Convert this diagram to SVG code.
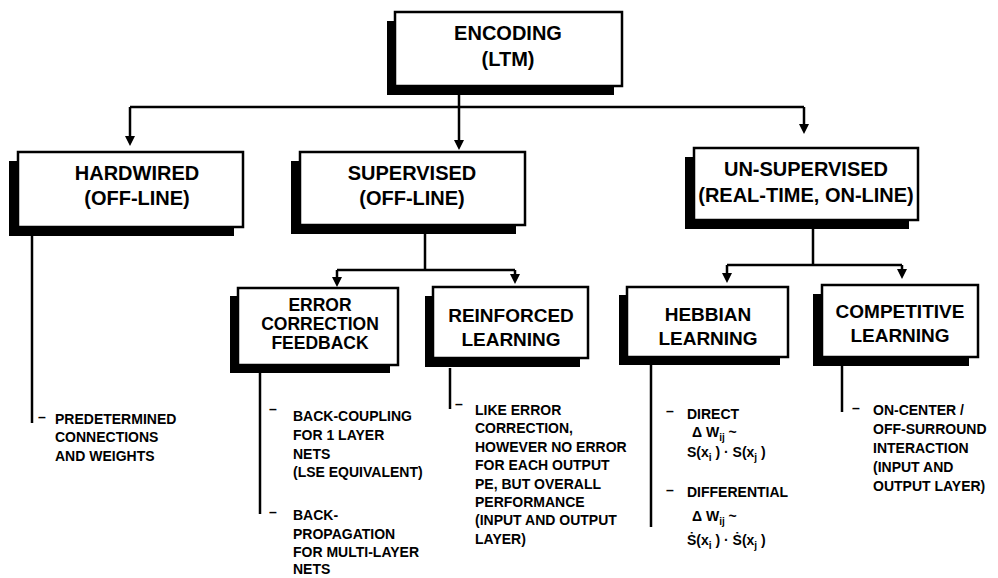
<svg xmlns="http://www.w3.org/2000/svg" width="998" height="578" viewBox="0 0 998 578">
<defs>
<style>
.sh{fill:#000}
.bx{fill:#fff;stroke:#000;stroke-width:2.5}
.t1{font-family:"Liberation Sans",Arial,sans-serif;font-weight:bold;font-size:20px;text-anchor:middle;fill:#000}
.t2{font-family:"Liberation Sans",Arial,sans-serif;font-weight:bold;font-size:19px;text-anchor:middle;fill:#000}
.t3{font-family:"Liberation Sans",Arial,sans-serif;font-weight:bold;font-size:17.5px;text-anchor:middle;fill:#000}
.tl{font-family:"Liberation Sans",Arial,sans-serif;font-weight:bold;font-size:14px;fill:#000}
.sub{font-size:10px}
.ln{fill:none;stroke:#000;stroke-width:2.5}
</style>
</defs>
<rect width="998" height="578" fill="#fff"/>

<g id="connectors">
<path class="ln" d="M130,107 H804"/>
<path class="ln" d="M459,90 V140"/>
<path class="ln" d="M130,107 V136"/>
<path class="ln" d="M804,107 V124"/>
<path d="M125,136 H135 L130,146 Z M454,140 H464 L459,150 Z M799,124 H809 L804,134 Z"/>

<path class="ln" d="M425,230 V270 M337,270 H515 M337,270 V277 M515,270 V274"/>
<path d="M332,277 H342 L337,287 Z M510,274 H520 L515,284 Z"/>

<path class="ln" d="M813,225 V265 M727,265 H902 M727,265 V273 M902,265 V269"/>
<path d="M722,273 H732 L727,283 Z M897,269 H907 L902,279 Z"/>

<path class="ln" d="M32,236 V423"/>
<path class="ln" d="M260,372 V514"/>
<path class="ln" d="M450,368 V409"/>
<path class="ln" d="M651,364 V527"/>
<path class="ln" d="M842,366 V412"/>
</g>

<g id="encoding">
<rect class="sh" x="387" y="21" width="227" height="74"/>
<rect class="bx" x="395" y="12" width="227" height="74"/>
<text class="t1" x="508" y="40">ENCODING</text>
<text class="t1" x="508" y="66">(LTM)</text>
</g>

<g id="hardwired">
<rect class="sh" x="9" y="161" width="225" height="75"/>
<rect class="bx" x="18" y="152" width="225" height="75"/>
<text class="t1" x="137" y="180">HARDWIRED</text>
<text class="t1" x="137" y="205">(OFF-LINE)</text>
</g>

<g id="supervised">
<rect class="sh" x="291" y="161" width="225" height="73"/>
<rect class="bx" x="300" y="152" width="225" height="73"/>
<text class="t1" x="412" y="180">SUPERVISED</text>
<text class="t1" x="412" y="205">(OFF-LINE)</text>
</g>

<g id="unsupervised">
<rect class="sh" x="685" y="157" width="224" height="72"/>
<rect class="bx" x="694" y="148" width="224" height="72"/>
<text class="t1" x="806" y="176">UN-SUPERVISED</text>
<text class="t1" x="806" y="202">(REAL-TIME, ON-LINE)</text>
</g>

<g id="error-correction">
<rect class="sh" x="230" y="296" width="160" height="77"/>
<rect class="bx" x="238" y="288" width="160" height="77"/>
<text class="t3" x="320" y="311">ERROR</text>
<text class="t3" x="320" y="330">CORRECTION</text>
<text class="t3" x="320" y="349">FEEDBACK</text>
</g>

<g id="reinforced">
<rect class="sh" x="425" y="296" width="155" height="71"/>
<rect class="bx" x="433" y="287" width="155" height="71"/>
<text class="t2" x="511" y="322">REINFORCED</text>
<text class="t2" x="511" y="346">LEARNING</text>
</g>

<g id="hebbian">
<rect class="sh" x="619" y="295" width="161" height="70"/>
<rect class="bx" x="627" y="287" width="161" height="70"/>
<text class="t2" x="708" y="321">HEBBIAN</text>
<text class="t2" x="708" y="345">LEARNING</text>
</g>

<g id="competitive">
<rect class="sh" x="813" y="294" width="156" height="72"/>
<rect class="bx" x="822" y="285" width="156" height="72"/>
<text class="t2" x="900" y="318">COMPETITIVE</text>
<text class="t2" x="900" y="342">LEARNING</text>
</g>

<g id="hardwired-notes">
<text class="tl" x="38" y="422">–</text>
<text class="tl" x="55" y="424">PREDETERMINED</text>
<text class="tl" x="55" y="442">CONNECTIONS</text>
<text class="tl" x="55" y="461">AND WEIGHTS</text>
</g>

<g id="error-notes">
<text class="tl" x="269" y="414">–</text>
<text class="tl" x="293" y="421">BACK-COUPLING</text>
<text class="tl" x="293" y="440">FOR 1 LAYER</text>
<text class="tl" x="293" y="459">NETS</text>
<text class="tl" x="293" y="477">(LSE EQUIVALENT)</text>
<text class="tl" x="269" y="517">–</text>
<text class="tl" x="293" y="520">BACK-</text>
<text class="tl" x="293" y="538.5">PROPAGATION</text>
<text class="tl" x="293" y="556.5">FOR MULTI-LAYER</text>
<text class="tl" x="293" y="574">NETS</text>
</g>

<g id="reinforced-notes">
<text class="tl" x="455" y="409">–</text>
<text class="tl" x="475" y="415">LIKE ERROR</text>
<text class="tl" x="475" y="433.4">CORRECTION,</text>
<text class="tl" x="475" y="451.8">HOWEVER NO ERROR</text>
<text class="tl" x="475" y="470.2">FOR EACH OUTPUT</text>
<text class="tl" x="475" y="488.6">PE, BUT OVERALL</text>
<text class="tl" x="475" y="507">PERFORMANCE</text>
<text class="tl" x="475" y="525.4">(INPUT AND OUTPUT</text>
<text class="tl" x="475" y="543.8">LAYER)</text>
</g>

<g id="hebbian-notes">
<text class="tl" x="666" y="416">–</text>
<text class="tl" x="687" y="419">DIRECT</text>
<text class="tl" x="692" y="437">Δ W<tspan class="sub" dy="4">ij</tspan><tspan dy="-4"> ~</tspan></text>
<text class="tl" x="687" y="457">S(x<tspan class="sub" dy="4">i</tspan><tspan dy="-4"> ) · S(x</tspan><tspan class="sub" dy="4">j</tspan><tspan dy="-4"> )</tspan></text>
<text class="tl" x="666" y="495">–</text>
<text class="tl" x="687" y="497">DIFFERENTIAL</text>
<text class="tl" x="692" y="521">Δ W<tspan class="sub" dy="4">ij</tspan><tspan dy="-4"> ~</tspan></text>
<text class="tl" x="687" y="545">Ṡ(x<tspan class="sub" dy="4">i</tspan><tspan dy="-4"> ) · Ṡ(x</tspan><tspan class="sub" dy="4">j</tspan><tspan dy="-4"> )</tspan></text>
</g>

<g id="competitive-notes">
<text class="tl" x="852" y="413">–</text>
<text class="tl" x="873" y="415">ON-CENTER /</text>
<text class="tl" x="873" y="434">OFF-SURROUND</text>
<text class="tl" x="873" y="453">INTERACTION</text>
<text class="tl" x="873" y="472">(INPUT AND</text>
<text class="tl" x="873" y="491">OUTPUT LAYER)</text>
</g>
</svg>
